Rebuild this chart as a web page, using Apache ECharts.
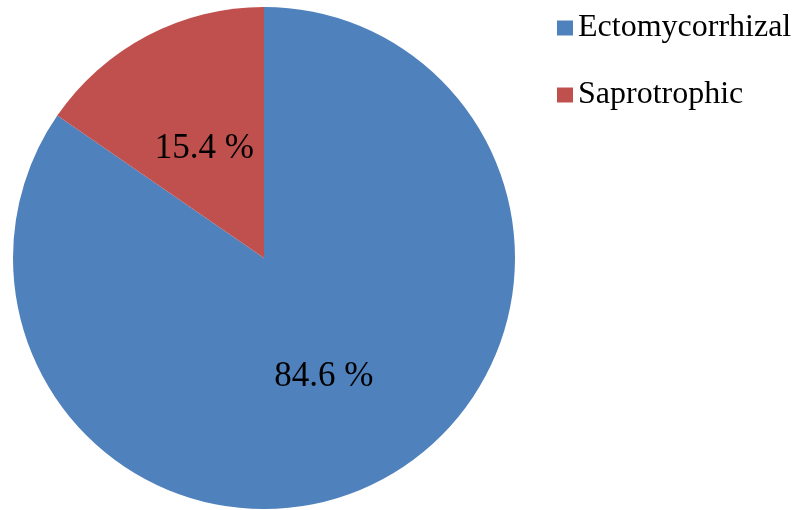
<!DOCTYPE html>
<html>
<head>
<meta charset="utf-8">
<script src="https://cdn.jsdelivr.net/npm/echarts@6/dist/echarts.min.js"></script>
<style>
  html, body { margin: 0; padding: 0; background: #fff; }
  #chart { width: 796px; height: 510px; }
</style>
</head>
<body>
<div id="chart"></div>
<script>
const categories = ['Ectomycorrhizal', 'Saprotrophic']
const shares = [84.6, 15.4]
const colors = ['#4F81BD', '#C0504D']

const chart = echarts.init(document.getElementById('chart'))

const option = {
  animation: false,
  color: colors,
  legend: {
    orient: 'vertical',
    left: 557,
    top: 12,
    padding: 0,
    itemWidth: 16,
    itemHeight: 15,
    itemGap: 35,
    icon: 'rect',
    textStyle: {
      fontFamily: 'Liberation Serif',
      fontSize: 32,
      lineHeight: 30,
      color: '#000'
    },
    data: categories
  },
  series: [{
    type: 'pie',
    center: [264, 258],
    radius: 251,
    startAngle: 90,
    clockwise: true,
    silent: true,
    label: {
      position: 'inside',
      formatter: '{c} %',
      fontFamily: 'Liberation Serif',
      fontSize: 35,
      offset: [0, 5],
      color: '#000'
    },
    labelLine: { show: false },
    data: categories.map((name, i) => ({ name: name, value: shares[i] }))
  }]
}

chart.setOption(option)
</script>
</body>
</html>
